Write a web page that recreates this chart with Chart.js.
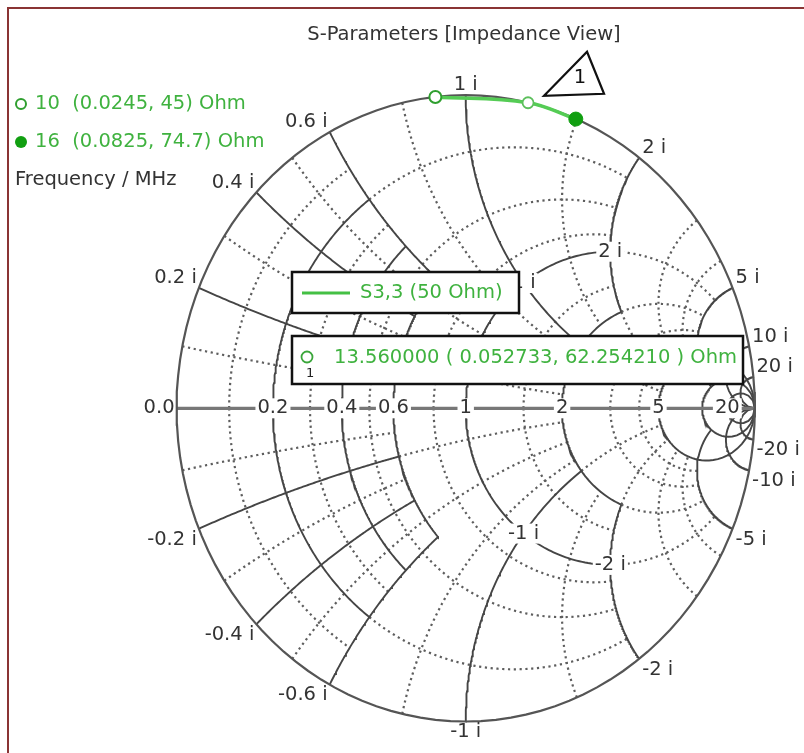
<!DOCTYPE html>
<html>
<head>
<meta charset="utf-8">
<script src="https://cdn.jsdelivr.net/npm/chart.js@4.4.1/dist/chart.umd.min.js"></script>
<style>
  html, body { margin: 0; padding: 0; background: #fff; }
  #wrap { position: relative; width: 804px; height: 753px; overflow: hidden; }
  #frame { position: absolute; left: 7px; top: 7px; width: 820px; height: 780px;
           border-left: 2px solid #8a3434; border-top: 2px solid #8a3434; pointer-events: none; }
</style>
</head>
<body>
<div id="wrap">
  <canvas id="smith" width="804" height="753"></canvas>
  <div id="frame"></div>
</div>
<script>
"use strict";
{
  // marker data (frequency / MHz, impedance / Ohm)
  const FREQ_MHZ = [10, 13.56, 16];
  const RES_OHM = [0.0245, 0.052733, 0.0825];
  const REACT_OHM = [45, 62.25421, 74.7];
  const Z0 = 50;
  const INF = 1e6;

  // grid: constant resistance [r, |x| from, |x| to]
  const SOLID_R = [[0.2, 0, 0.6], [0.4, 0, 0.6], [0.6, 0, 0.6], [1, 0, 2], [2, 0, 2], [5, 0, INF], [10, 0, INF], [20, 0, INF]];
  const DOTTED_R = [[0.1, 0, 0.6], [0.3, 0, 0.6], [0.5, 0, 2], [0.8, 0, 2], [1.5, 0, 2], [0.2, 0.6, 2], [1, 2, 5], [2, 2, 5], [3, 0, 5], [4, 0, 5]];
  // grid: constant reactance [|x|, r from, r to]
  const SOLID_X = [[0.2, 0, 0.6], [0.4, 0, 0.6], [0.6, 0, 0.6], [1, 0, 2], [2, 0, 2], [5, 0, 10], [10, 0, INF], [20, 0, INF]];
  const DOTTED_X = [[0.1, 0, 0.6], [0.3, 0, 0.6], [0.5, 0, 2], [0.8, 0, 2], [1.5, 0, 2], [0.2, 0.6, 2], [1, 2, 5], [2, 2, 5], [3, 0, 5], [4, 0, 5]];

  // tick labels
  const AXIS_TICKS = [0.2, 0.4, 0.6, 1, 2, 5, 20];
  const AXIS_LABELS = ["0.2", "0.4", "0.6", "1", "2", "5", "20"];
  const REACT_TICKS = [0.2, 0.4, 0.6, 1, 2, 5, 10, 20];
  const INNER_TICKS = [1, 2];

  const GREEN_TEXT = "#3fb23f";
  const FONT = '19.5px "DejaVu Sans", sans-serif';

  function gamma(r, x) {
    const d = (r + 1) * (r + 1) + x * x;
    return { x: (r * r + x * x - 1) / d, y: (2 * x) / d };
  }

  function rCurve(r, a, b, sign) {
    const pts = [];
    const p0 = Math.atan(a), p1 = Math.atan(b);
    for (let i = 0; i <= 120; i++) {
      const p = p0 + ((p1 - p0) * i) / 120;
      pts.push(gamma(r, sign * Math.tan(p)));
    }
    return pts;
  }

  function xCurve(x, a, b) {
    const pts = [];
    const p0 = Math.atan(a), p1 = Math.atan(b);
    for (let i = 0; i <= 120; i++) {
      const p = p0 + ((p1 - p0) * i) / 120;
      pts.push(gamma(Math.tan(p), x));
    }
    return pts;
  }

  function gridSet(data, dotted) {
    return {
      data: data,
      showLine: true,
      pointRadius: 0,
      borderColor: dotted ? "#5e5e5e" : "#454545",
      borderWidth: dotted ? 2.2 : 1.9,
      borderDash: dotted ? [2.2, 3.6] : [],
      fill: false,
      tension: 0,
    };
  }

  const datasets = [];

  // measured trace with markers
  datasets.push({
    data: FREQ_MHZ.map((f, i) => gamma(RES_OHM[i] / Z0, REACT_OHM[i] / Z0)),
    showLine: true,
    tension: 0.4,
    borderColor: "#55cc55",
    borderWidth: 3.5,
    pointRadius: [6, 5.5, 7],
    pointBorderWidth: [2, 1.8, 1],
    pointBackgroundColor: ["#ffffff", "#ffffff", "#119f11"],
    pointBorderColor: ["#2f9f2f", "#5cbf5c", "#119f11"],
  });

  // outer circle and real axis
  datasets.push(gridSet(rCurve(0, -INF, INF, 1), false));
  datasets.at(-1).borderWidth = 2.2;
  datasets.at(-1).borderColor = "#555555";
  datasets.push(gridSet(xCurve(0, 0, INF), false));
  datasets.at(-1).borderWidth = 3.2;
  datasets.at(-1).borderColor = "#777777";

  SOLID_R.forEach(([r, a, b]) => {
    datasets.push(gridSet(rCurve(r, a, b, 1), false));
    datasets.push(gridSet(rCurve(r, a, b, -1), false));
  });
  SOLID_X.forEach(([x, a, b]) => {
    datasets.push(gridSet(xCurve(x, a, b), false));
    datasets.push(gridSet(xCurve(-x, a, b), false));
  });
  DOTTED_R.forEach(([r, a, b]) => {
    datasets.push(gridSet(rCurve(r, a, b, 1), true));
    datasets.push(gridSet(rCurve(r, a, b, -1), true));
  });
  DOTTED_X.forEach(([x, a, b]) => {
    datasets.push(gridSet(xCurve(x, a, b), true));
    datasets.push(gridSet(xCurve(-x, a, b), true));
  });

  function boxedText(ctx, text, x, y) {
    const w = ctx.measureText(text).width;
    ctx.fillStyle = "#ffffff";
    ctx.fillRect(x - w / 2 - 2, y - 10, w + 4, 20);
    ctx.fillStyle = "#333333";
    ctx.fillText(text, x, y);
  }

  const smithDecor = {
    id: "smithDecor",
    afterDraw(chart) {
      const ctx = chart.ctx;
      const sx = chart.scales.x, sy = chart.scales.y;
      const toPx = (g) => ({ x: sx.getPixelForValue(g.x), y: sy.getPixelForValue(g.y) });
      ctx.save();
      ctx.font = FONT;
      ctx.textBaseline = "middle";
      ctx.textAlign = "center";

      // real axis labels
      AXIS_TICKS.forEach((r, i) => {
        const p = toPx(gamma(r, 0));
        boxedText(ctx, AXIS_LABELS[i], p.x, p.y);
      });
      const left = toPx(gamma(0, 0));
      ctx.textAlign = "right";
      ctx.fillStyle = "#333333";
      ctx.fillText("0.0", left.x - 2, left.y);

      // inner labels on r = 1
      ctx.textAlign = "center";
      INNER_TICKS.forEach((x) => {
        [x, -x].forEach((v) => {
          const p = toPx(gamma(1, v));
          boxedText(ctx, v + " i", p.x, p.y);
        });
      });

      // outer reactance labels
      ctx.fillStyle = "#333333";
      REACT_TICKS.forEach((x) => {
        [x, -x].forEach((v) => {
          const g = gamma(0, v);
          const p = toPx(g);
          let dx = 0;
          if (Math.abs(g.x) < 0.05) ctx.textAlign = "center";
          else if (g.x > 0) { ctx.textAlign = "left"; dx = 3; }
          else { ctx.textAlign = "right"; dx = -2; }
          ctx.textBaseline = v > 0 ? "bottom" : "top";
          ctx.fillText(v + " i", p.x + dx, p.y + (v > 0 ? 0 : 1));
        });
      });

      // title
      ctx.textBaseline = "middle";
      ctx.textAlign = "center";
      ctx.fillText("S-Parameters [Impedance View]", 464, 35);

      // marker legend (left)
      ctx.textAlign = "left";
      ctx.lineWidth = 2;
      ctx.strokeStyle = "#2f9f2f";
      ctx.fillStyle = "#ffffff";
      ctx.beginPath(); ctx.arc(21, 104, 5, 0, Math.PI * 2); ctx.fill(); ctx.stroke();
      ctx.fillStyle = "#119f11";
      ctx.beginPath(); ctx.arc(21, 142, 6, 0, Math.PI * 2); ctx.fill();
      ctx.fillStyle = GREEN_TEXT;
      [0, 2].forEach((i, k) => {
        ctx.fillText(FREQ_MHZ[i] + "  (" + RES_OHM[i] + ", " + REACT_OHM[i] + ") Ohm", 35, 104 + 38 * k);
      });
      ctx.fillStyle = "#333333";
      ctx.fillText("Frequency / MHz", 15, 180);

      // curve legend box
      ctx.lineWidth = 2.5;
      ctx.strokeStyle = "#111111";
      ctx.fillStyle = "#ffffff";
      ctx.fillRect(292, 272, 227, 41);
      ctx.strokeRect(292, 272, 227, 41);
      ctx.strokeStyle = "#44c044";
      ctx.lineWidth = 3;
      ctx.beginPath(); ctx.moveTo(302, 293); ctx.lineTo(350, 293); ctx.stroke();
      ctx.fillStyle = GREEN_TEXT;
      ctx.fillText("S3,3 (50 Ohm)", 360, 293);

      // marker readout box
      ctx.lineWidth = 2.5;
      ctx.strokeStyle = "#111111";
      ctx.fillStyle = "#ffffff";
      ctx.fillRect(292, 336, 451, 48);
      ctx.strokeRect(292, 336, 451, 48);
      ctx.lineWidth = 1.8;
      ctx.strokeStyle = "#3aa63a";
      ctx.beginPath(); ctx.arc(307, 357, 5.5, 0, Math.PI * 2); ctx.stroke();
      ctx.fillStyle = "#222222";
      ctx.font = '13px "DejaVu Sans", sans-serif';
      ctx.fillText("1", 306, 374);
      ctx.font = FONT;
      ctx.fillStyle = GREEN_TEXT;
      ctx.fillText(
        FREQ_MHZ[1].toFixed(6) + " ( " + RES_OHM[1].toFixed(6) + ", " + REACT_OHM[1].toFixed(6) + " ) Ohm",
        334, 358
      );

      // marker flag "1"
      const m = toPx(gamma(RES_OHM[1] / Z0, REACT_OHM[1] / Z0));
      ctx.lineWidth = 2.2;
      ctx.strokeStyle = "#111111";
      ctx.fillStyle = "#ffffff";
      ctx.beginPath();
      ctx.moveTo(m.x + 16, m.y - 7);
      ctx.lineTo(m.x + 59, m.y - 51);
      ctx.lineTo(m.x + 76, m.y - 9);
      ctx.closePath();
      ctx.fill(); ctx.stroke();
      ctx.fillStyle = "#111111";
      ctx.textAlign = "center";
      ctx.fillText("1", m.x + 52, m.y - 25);
      ctx.restore();
    },
  };

  new Chart(document.getElementById("smith"), {
    type: "scatter",
    data: { datasets: datasets },
    options: {
      responsive: false,
      animation: false,
      layout: { padding: 0 },
      scales: {
        x: { display: false, min: -1.58305, max: 1.14237 },
        y: { display: false, min: -1.075, max: 1.278125 },
      },
      plugins: {
        legend: { display: false },
        tooltip: { enabled: false },
      },
    },
    plugins: [smithDecor],
  });
}
</script>
</body>
</html>
